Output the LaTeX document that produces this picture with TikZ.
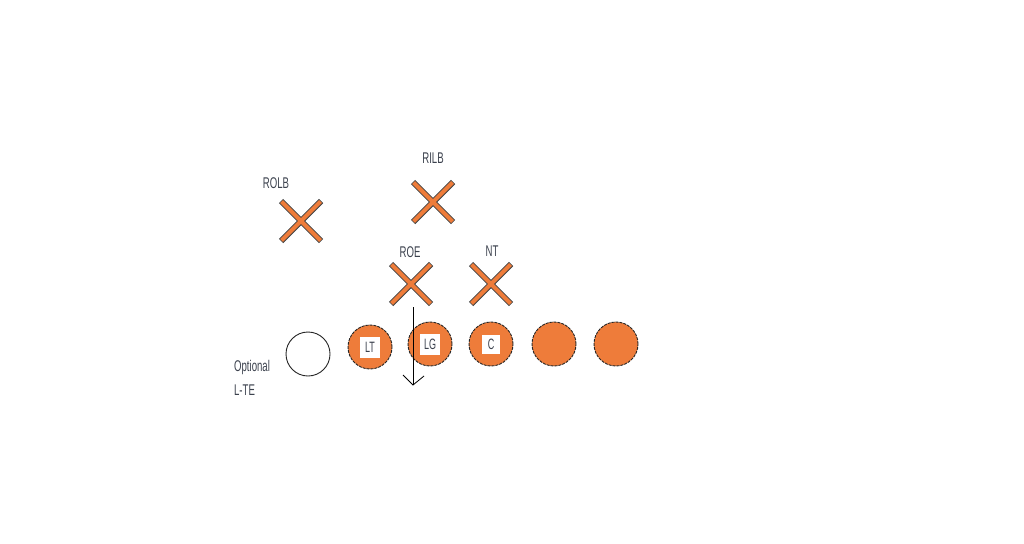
\documentclass[tikz,border=0pt]{standalone}
\usepackage{fontspec}
\setmainfont{Liberation Sans}
\definecolor{orng}{RGB}{238,124,58}
\definecolor{txt}{RGB}{60,66,78}
\tikzset{
  lbl/.style={font=\fontsize{15.5}{15.5}\selectfont, text=txt, xscale=0.62, inner sep=0pt},
  player/.style={circle, minimum size=44pt, inner sep=0pt, draw=black!85, dashed, dash pattern=on 3pt off 1pt, line width=0.9pt, fill=orng},
  tag/.style={fill=white, minimum width=20pt, minimum height=21pt, inner sep=0pt, font=\fontsize{15}{15}\selectfont, text=txt},
  xmark/.style={line width=6pt, draw=black!75},
  xfill/.style={line width=4pt, draw=orng}
}
\newcommand{\drawX}[2]{%
  \draw[xmark] (#1-20,#2-20) -- (#1+20,#2+20);
  \draw[xmark] (#1-20,#2+20) -- (#1+20,#2-20);
  \draw[xfill] (#1-19.5,#2-19.5) -- (#1+19.5,#2+19.5);
  \draw[xfill] (#1-19.5,#2+19.5) -- (#1+19.5,#2-19.5);
}
\begin{document}
\begin{tikzpicture}[x=1pt,y=-1pt]
\useasboundingbox[fill=white] (0,0) rectangle (1024,543);
% defenders
\drawX{301}{221}
\drawX{433}{202}
\drawX{411}{284}
\drawX{491}{284}
\node[lbl] (rolb) at (276,183) {ROLB};
\node[lbl] (rilb) at (433,158) {RILB};
\node[lbl] (roe) at (410,252) {ROE};
\node[lbl] (nt) at (492,251) {NT};
% offense
\node[player, fill=white, solid] (te) at (308,354) {};
\node[player] (lt) at (370,347) {};
\node[player] (lg) at (430,344) {};
\node[player] (c) at (491,344) {};
\node[player] (rg) at (554,344) {};
\node[player] (rt) at (616,344) {};
\node[tag] at (lt) {\scalebox{0.6}[1]{LT}};
\node[tag] at (lg) {\scalebox{0.6}[1]{LG}};
\node[tag, minimum width=18pt, minimum height=19pt] at (c) {\scalebox{0.6}[1]{C}};
\node[lbl, anchor=west] (opt) at (234,367) {Optional};
\node[lbl, anchor=west] (lte) at (234,390) {L-TE};
% arrow
\coordinate (a1) at (413,307);
\coordinate (a2) at (413,385);
\draw[line width=0.8pt] (a1) -- (a2);
\draw[line width=0.8pt] (403,375) -- (a2) -- (424,376);
\end{tikzpicture}
\end{document}
